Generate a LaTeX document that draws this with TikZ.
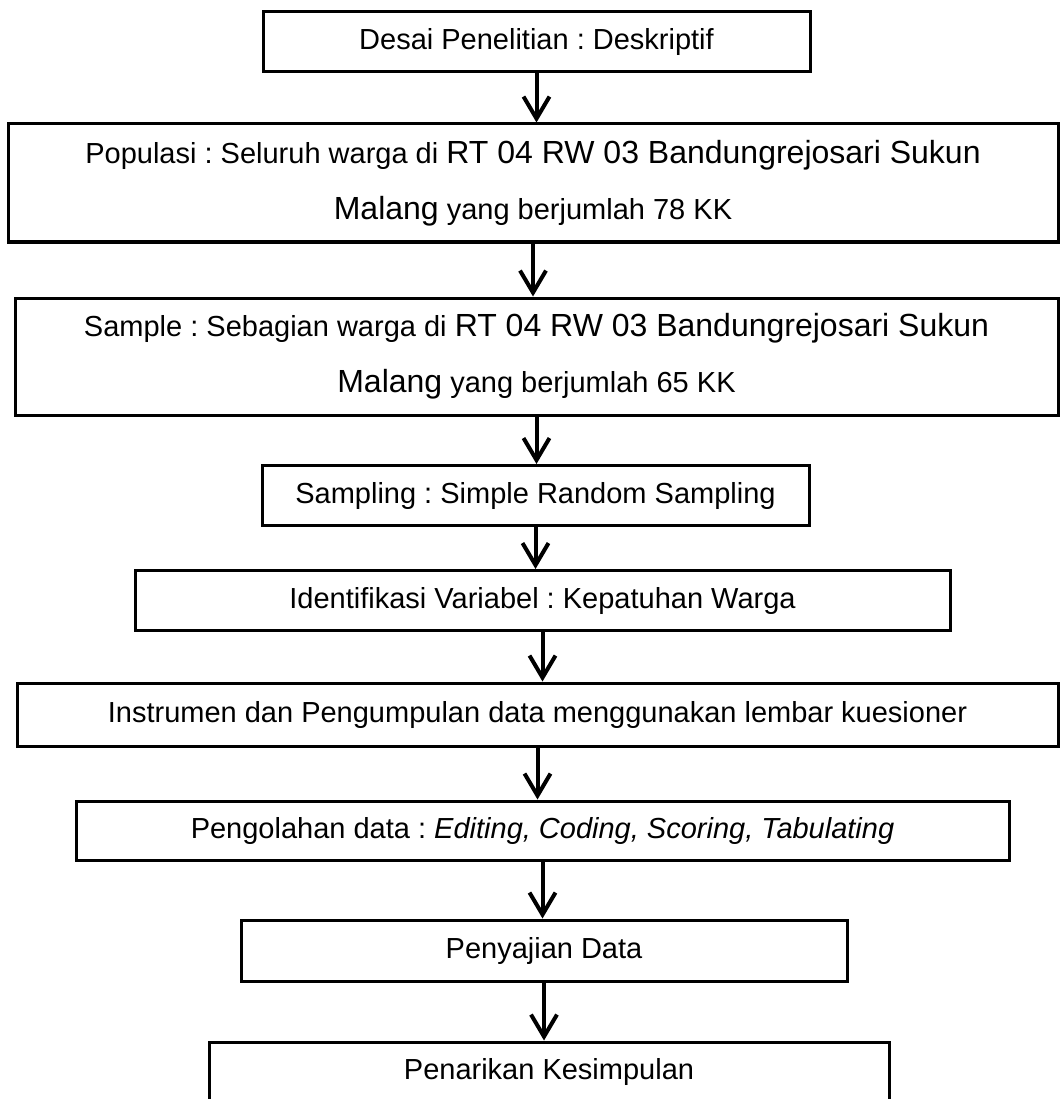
\documentclass[tikz,border=0pt]{standalone}
\usepackage{fontspec}
\setmainfont{Liberation Sans}
\usetikzlibrary{arrows.meta,positioning}
\frenchspacing
\newcommand{\kecil}{\fontsize{29}{56}\selectfont}
\newcommand{\besar}{\fontsize{32}{56}\selectfont}
\tikzset{every node/.style={align=center}}

\begin{document}
\begin{tikzpicture}[x=1pt,y=1pt,
  kotak/.style={rectangle,draw,line width=3pt,minimum height=60pt,inner sep=0pt,font=\kecil},
  panah/.style={line width=4pt,-{Straight Barb[length=22pt,width=26pt,line width=4pt]}}]
\useasboundingbox (0,0) rectangle (1060,-1099);
\clip (0,0) rectangle (1060,-1099);

\node[kotak,minimum width=547pt] (desain) at (536.5,-42) {Desai Penelitian : Deskriptif};
\node[kotak,minimum width=1050pt,minimum height=118pt] (populasi) at (533,-183)
  {Populasi : Seluruh warga di {\besar RT 04 RW 03 Bandungrejosari Sukun}\\{\besar Malang} yang berjumlah 78 KK};
\node[kotak,minimum width=1043pt,minimum height=117pt] (sampel) at (536.5,-356.5)
  {Sample : Sebagian warga di {\besar RT 04 RW 03 Bandungrejosari Sukun}\\{\besar Malang} yang berjumlah 65 KK};
\node[kotak,minimum width=547pt] (sampling) at (535.5,-495.5) {Sampling : Simple Random Sampling};
\node[kotak,minimum width=815pt] (variabel) at (542.5,-600.5) {Identifikasi Variabel : Kepatuhan Warga};
\node[kotak,minimum width=1041pt,minimum height=63pt] (instrumen) at (537.5,-714.5) {Instrumen dan Pengumpulan data menggunakan lembar kuesioner};
\node[kotak,minimum width=933pt,minimum height=59pt] (olah) at (542.5,-830.5) {Pengolahan data : \textit{Editing, Coding, Scoring, Tabulating}};
\node[kotak,minimum width=606pt,minimum height=61pt] (saji) at (544,-950.5) {Penyajian Data};
\node[kotak,minimum width=680pt] (simpul) at (549,-1072) {Penarikan Kesimpulan};

\draw[panah] (desain) -- (desain |- populasi.north);
\draw[panah] (populasi) -- (populasi |- sampel.north);
\draw[panah] (sampel) -- (sampel |- sampling.north);
\draw[panah] (sampling) -- (sampling |- variabel.north);
\draw[panah] (variabel) -- (variabel |- instrumen.north);
\draw[panah] (instrumen) -- (instrumen |- olah.north);
\draw[panah] (olah) -- (olah |- saji.north);
\draw[panah] (saji) -- (saji |- simpul.north);

\end{tikzpicture}
\end{document}
